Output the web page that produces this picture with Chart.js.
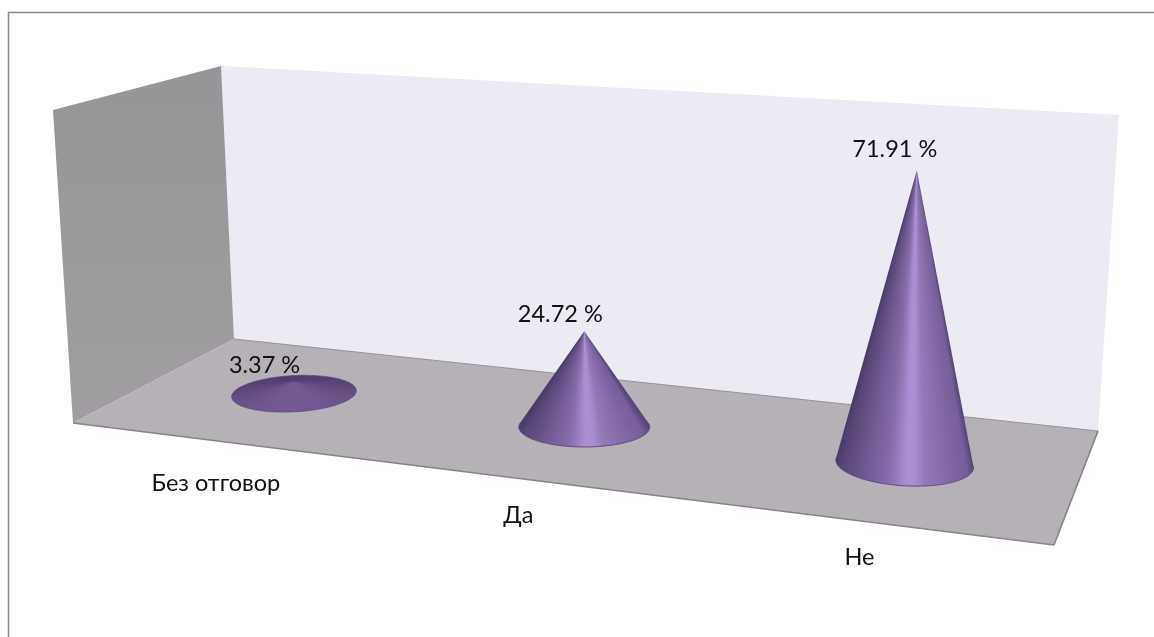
<!DOCTYPE html>
<html>
<head>
<meta charset="utf-8">
<style>
  html, body { margin: 0; padding: 0; background: #fff; }
  canvas { display: block; }
</style>
<script src="https://cdn.jsdelivr.net/npm/chart.js@4/dist/chart.umd.min.js"></script>
</head>
<body>
<canvas id="cones" width="1154" height="637"></canvas>
<script>
const categories = ["Без отговор", "Да", "Не"];
const percentages = [3.37, 24.72, 71.91];

// room corners: floor is front-left, front-right, back-right, back-left
const floorCorners = [[73, 423], [1054, 545], [1098, 431], [234, 339]];
const backWallTop = [[221, 66], [1119, 115]];
const sideWallTop = [53, 110];

// text nudges per category, relative to the floor's front edge / the cone tip
const axisLabelNudge = [[0, 43], [-6, 36], [-8, 36]];
const valueLabelNudge = [[-29, -16], [-24, -17], [-22, -21]];

const labelFont = '23.5px Lato';
const leanOrigin = 582;
const leanDepth = 7800;

// unit square -> floor quad
function floorMapper(q) {
    const [p0, p1, p2, p3] = q;
    const dx1 = p1[0] - p2[0], dx2 = p3[0] - p2[0], sx = p0[0] - p1[0] + p2[0] - p3[0];
    const dy1 = p1[1] - p2[1], dy2 = p3[1] - p2[1], sy = p0[1] - p1[1] + p2[1] - p3[1];
    const den = dx1 * dy2 - dx2 * dy1;
    const g = (sx * dy2 - dx2 * sy) / den;
    const h = (dx1 * sy - sx * dy1) / den;
    const a = p1[0] - p0[0] + g * p1[0], b = p3[0] - p0[0] + h * p3[0];
    const d = p1[1] - p0[1] + g * p1[1], e = p3[1] - p0[1] + h * p3[1];
    return (u, v) => {
        const w = g * u + h * v + 1;
        return [(a * u + b * v + p0[0]) / w, (d * u + e * v + p0[1]) / w];
    };
}
const onFloor = floorMapper(floorCorners);

const lit = [
    [-1.00, [74, 60, 104]],
    [-0.92, [88, 70, 120]],
    [-0.60, [110, 88, 144]],
    [-0.25, [134, 108, 170]],
    [-0.12, [150, 123, 190]],
    [0.02, [172, 144, 214]],
    [0.14, [170, 142, 212]],
    [0.30, [146, 120, 184]],
    [0.62, [132, 106, 168]],
    [0.92, [118, 94, 154]],
    [1.00, [88, 70, 120]]
];

function mix(a, b, t) {
    return a.map((c, i) => c + (b[i] - c) * t);
}

function shade(theta, flat) {
    const t = Math.cos(theta);
    let col = lit[lit.length - 1][1];
    for (let i = 1; i < lit.length; i++) {
        if (t <= lit[i][0]) {
            col = mix(lit[i - 1][1], lit[i][1], (t - lit[i - 1][0]) / (lit[i][0] - lit[i - 1][0]));
            break;
        }
    }
    // shallow cones face upward, so they stay dark all the way round
    const s = (Math.sin(theta) + 1) / 2;
    const top = mix([80, 62, 108], [116, 88, 146], s);
    col = mix(col, top, flat);
    return `rgb(${col.map(Math.round).join(",")})`;
}

function drawCone(ctx, cx, cy, rx, ry, tilt, tip, height) {
    const flat = Math.min(1, Math.max(0, (1 - height / rx) / 0.8));
    const edge = a => {
        const ex = Math.cos(a) * rx, ey = Math.sin(a) * ry;
        return [cx + ex, cy + ey + ex * tilt];
    };
    const tipInside = height < ry;

    // the tangent points of the silhouette, seen from the tip
    let right = 0, left = Math.PI;
    if (!tipInside) {
        let lo = Infinity, hi = -Infinity;
        for (let a = -Math.PI / 2; a < Math.PI * 1.5; a += 0.005) {
            const e = edge(a);
            const phi = Math.atan2(e[1] - tip[1], e[0] - tip[0]);
            if (phi < lo) { lo = phi; right = a; }
            if (phi > hi) { hi = phi; left = a; }
        }
    }

    // shading follows the lines running from the tip to the base
    const grad = ctx.createConicGradient(0, tip[0], tip[1]);
    const from = tipInside ? 0 : right;
    const to = tipInside ? Math.PI * 2 : left;
    for (let i = 0; i <= 160; i++) {
        const a = from + (to - from) * i / 160;
        const e = edge(a);
        let phi = Math.atan2(e[1] - tip[1], e[0] - tip[0]);
        if (phi < 0) phi += Math.PI * 2;
        grad.addColorStop(phi / (Math.PI * 2), shade(a, flat));
    }
    ctx.fillStyle = grad;
    ctx.beginPath();
    for (let i = 0; i < 120; i++) {
        const e = edge(i / 120 * Math.PI * 2);
        if (i) ctx.lineTo(e[0], e[1]); else ctx.moveTo(e[0], e[1]);
    }
    ctx.closePath();
    ctx.fill();
    if (!tipInside) {
        const eL = edge(left), eR = edge(right);
        ctx.beginPath();
        ctx.moveTo(tip[0], tip[1]);
        ctx.lineTo(eL[0], eL[1]);
        ctx.lineTo(eR[0], eR[1]);
        ctx.closePath();
        ctx.fill();
    }

    // rim along the front of the base
    ctx.strokeStyle = tipInside ? 'rgba(90,70,130,0.7)' : '#5d4785';
    ctx.lineWidth = 1;
    ctx.beginPath();
    const rimTo = tipInside ? Math.PI * 2 : left;
    for (let a = tipInside ? 0 : right; a <= rimTo; a += 0.02) {
        const e = edge(a);
        ctx.lineTo(e[0], e[1]);
    }
    ctx.stroke();
}

function polygon(ctx, pts, fill) {
    ctx.beginPath();
    pts.forEach((p, i) => i ? ctx.lineTo(p[0], p[1]) : ctx.moveTo(p[0], p[1]));
    ctx.closePath();
    ctx.fillStyle = fill;
    ctx.fill();
}

function line(ctx, a, b, color, width) {
    ctx.strokeStyle = color;
    ctx.lineWidth = width;
    ctx.beginPath();
    ctx.moveTo(a[0], a[1]);
    ctx.lineTo(b[0], b[1]);
    ctx.stroke();
}

const conePlugin = {
    id: 'cones',
    beforeDatasetsDraw(chart) {
        const ctx = chart.ctx;
        const [fl, fr, br, bl] = floorCorners;
        ctx.save();
        // outer frame, only the top and left sides show
        line(ctx, [8, 12.5], [1154, 12.5], '#8a8a8a', 1.5);
        line(ctx, [8.5, 12], [8.5, 637], '#8a8a8a', 1.5);

        polygon(ctx, [backWallTop[0], backWallTop[1], br, bl], '#eceaf2');
        const side = ctx.createLinearGradient(0, 66, 0, 423);
        side.addColorStop(0, '#979598');
        side.addColorStop(1, '#a09ea1');
        polygon(ctx, [sideWallTop, backWallTop[0], bl, fl], side);
        polygon(ctx, floorCorners, '#b5b1b6');

        line(ctx, bl, br, '#959395', 1);
        line(ctx, fl, fr, '#858585', 1.6);
        line(ctx, fr, br, '#858585', 1.6);
        ctx.restore();
    },
    afterDatasetsDraw(chart) {
        const ctx = chart.ctx;
        const area = chart.chartArea;
        const meta = chart.getDatasetMeta(0);
        const scaleX = chart.scales.x;
        ctx.save();
        meta.data.forEach((bar, i) => {
            const u = (bar.x - area.left) / area.width;
            const [cx, cy] = onFloor(u, 0.5);
            const persp = 1 + (cx - leanOrigin) * 0.000161;
            const rx = bar.width / 2 * persp;
            const ry = bar.width / 2 * 0.305 * persp * persp;
            const height = (bar.base - bar.y) * persp;
            const tip = [cx + height * (cx - leanOrigin) / leanDepth, cy - height];
            drawCone(ctx, cx, cy, rx, ry, (cx - leanOrigin) * 0.00017, tip, height);

            ctx.font = labelFont;
            ctx.fillStyle = '#111';
            ctx.textAlign = 'center';
            ctx.textBaseline = 'middle';
            const vn = valueLabelNudge[i];
            ctx.fillText(percentages[i].toFixed(2) + ' %', tip[0] + vn[0], tip[1] + vn[1]);

            const front = onFloor(u, 0);
            const an = axisLabelNudge[i];
            ctx.fillText(scaleX.getLabelForValue(i), front[0] + an[0], front[1] + an[1]);
        });
        ctx.restore();
    }
};

new Chart(document.getElementById('cones'), {
    type: 'bar',
    data: {
        labels: categories,
        datasets: [{
            label: 'Отговори',
            data: percentages,
            backgroundColor: 'transparent',
            borderWidth: 0,
            barPercentage: 0.4,
            categoryPercentage: 1
        }]
    },
    options: {
        responsive: false,
        animation: false,
        layout: { padding: { left: 73, right: 100, top: 66, bottom: 261 } },
        scales: {
            x: { display: false },
            y: { display: false, min: 0, max: 80 }
        },
        plugins: {
            legend: { display: false },
            tooltip: { enabled: false }
        }
    },
    plugins: [conePlugin]
});
</script>
</body>
</html>
